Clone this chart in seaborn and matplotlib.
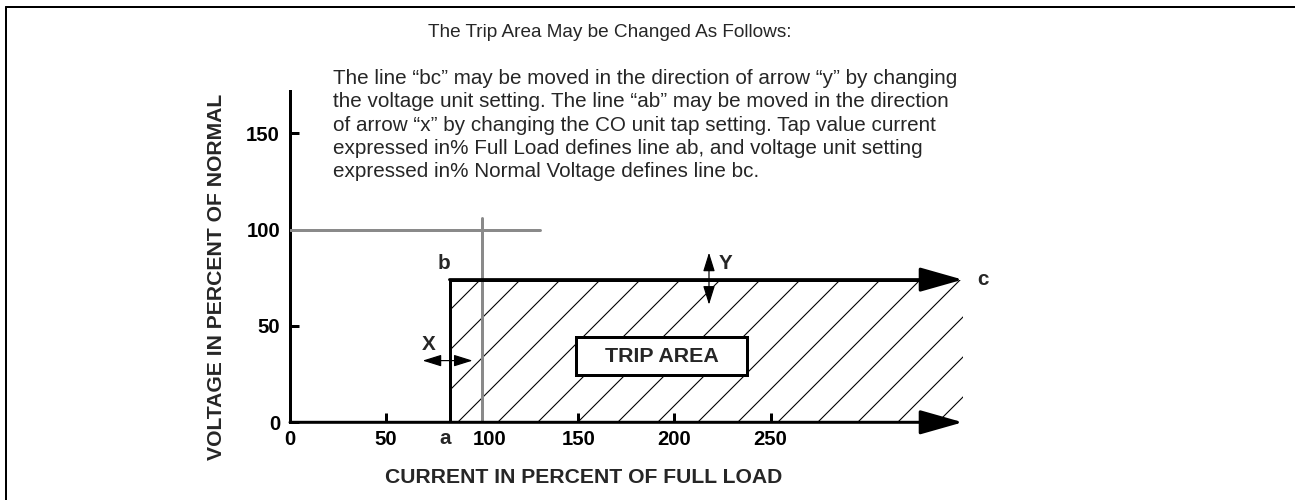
import matplotlib
matplotlib.use("Agg")
import matplotlib.pyplot as plt
import matplotlib.transforms as mtransforms
import seaborn as sns
from matplotlib.lines import Line2D
from matplotlib.patches import Rectangle

# ---------------- data ----------------
x_ticks = [0, 50, 100, 150, 200, 250]
x_tick_labels = ["0", "50", "100", "150", "200", "250"]
y_ticks = [0, 50, 100, 150]
y_tick_labels = ["0", "50", "100", "150"]

tap_a = 83            # line ab (current, % full load)
volt_b = 74           # line bc (voltage, % normal)
x_end = 350           # end of arrows
trip_x = [tap_a, tap_a, x_end - 12]
trip_y = [0, volt_b, volt_b]

normal_v_x = [0, 130]
normal_v_y = [100, 100]
full_load_x = [100, 100]
full_load_y = [0, 106]

trip_box_x = [149, 238]
trip_box_y = [24.4, 44]
x_arrow_x = [69, 95]
x_arrow_y = 32
y_arrow_x = 218
y_arrow_y = [61, 88]

title = "The Trip Area May be Changed As Follows:"
body = ("The line \u201cbc\u201d may be moved in the direction of arrow \u201cy\u201d by changing\n"
        "the voltage unit setting. The line \u201cab\u201d may be moved in the direction\n"
        "of arrow \u201cx\u201d by changing the CO unit tap setting. Tap value current\n"
        "expressed in% Full Load defines line ab, and voltage unit setting\n"
        "expressed in% Normal Voltage defines line bc.")
x_label = "CURRENT IN PERCENT OF FULL LOAD"
y_label = "VOLTAGE IN PERCENT OF NORMAL"

# ---------------- style ----------------
DPI = 240
W, H = 1295, 500


def pt(px):
    return px * 72.0 / DPI


sns.set_style("white")
plt.rcParams["font.family"] = ["Liberation Sans", "DejaVu Sans"]
plt.rcParams["hatch.linewidth"] = pt(1.1)

fig = plt.figure(figsize=(W / DPI, H / DPI), dpi=DPI)
sx, sy = 1.922, 1.928
x0, y0 = 290, 422.3
xmax, ymax = 360, 175
ax = fig.add_axes([x0 / W, (H - y0) / H, xmax * sx / W, ymax * sy / H])
ax.set_xlim(0, xmax)
ax.set_ylim(0, ymax)

for s in ["top", "right", "bottom"]:
    ax.spines[s].set_visible(False)
ax.spines["left"].set_bounds(0, 172)
ax.spines["left"].set_linewidth(pt(3))
ax.spines["left"].set_color("black")

ax.set_xticks(x_ticks)
ax.set_xticklabels(x_tick_labels)
ax.set_yticks(y_ticks)
ax.set_yticklabels(y_tick_labels)
ax.tick_params(axis="both", direction="in", length=pt(9), width=pt(3),
               color="black", labelsize=pt(20.3), labelcolor="black")
ax.tick_params(axis="x", pad=pt(8), bottom=True)
ax.tick_params(axis="y", pad=pt(10), left=True)
for lbl in ax.get_xticklabels() + ax.get_yticklabels():
    lbl.set_fontweight("bold")
# the "100" label sits a little to the right of its tick in the original
lbl100 = ax.get_xticklabels()[2]
lbl100.set_transform(lbl100.get_transform()
                     + mtransforms.ScaledTranslation(7 / DPI, 0, fig.dpi_scale_trans))

# hatched trip area
ax.fill_between([tap_a, x_end], 0, volt_b, facecolor="none", edgecolor="black",
                linewidth=0, hatch="//", zorder=1)

# reference lines (100 % voltage, 100 % current)
line_kw = dict(sort=False, estimator=None, errorbar=None, ax=ax)
sns.lineplot(x=normal_v_x, y=normal_v_y, color="#8a8a8a", linewidth=pt(3),
             zorder=3, **line_kw)
sns.lineplot(x=full_load_x, y=full_load_y, color="#8a8a8a", linewidth=pt(3),
             zorder=3, **line_kw)

# boundary a-b-c
sns.lineplot(x=trip_x, y=trip_y, color="black", linewidth=pt(3), zorder=4, **line_kw)

big_head = dict(arrowstyle="-|>,head_length=%f,head_width=%f" % (pt(37), pt(10.5)),
                color="black", lw=pt(3), shrinkA=0, shrinkB=0, mutation_scale=1)
ax.annotate("", xy=(x_end, volt_b), xytext=(tap_a, volt_b),
            arrowprops=big_head, annotation_clip=False, zorder=4)
ax.annotate("", xy=(x_end, 0), xytext=(0, 0),
            arrowprops=big_head, annotation_clip=False, zorder=4)

small_head = dict(arrowstyle="<|-|>,head_length=%f,head_width=%f" % (pt(16), pt(5)),
                  color="black", lw=pt(1.2), shrinkA=0, shrinkB=0, mutation_scale=1)
ax.annotate("", xy=(x_arrow_x[1], x_arrow_y), xytext=(x_arrow_x[0], x_arrow_y),
            arrowprops=small_head, zorder=5)
ax.annotate("", xy=(y_arrow_x, y_arrow_y[0]), xytext=(y_arrow_x, y_arrow_y[1]),
            arrowprops=small_head, zorder=5)

# trip area box
ax.add_patch(Rectangle((trip_box_x[0], trip_box_y[0]), trip_box_x[1] - trip_box_x[0],
                       trip_box_y[1] - trip_box_y[0], facecolor="white",
                       edgecolor="black", linewidth=pt(3), zorder=5))
ax.text(sum(trip_box_x) / 2, sum(trip_box_y) / 2, "TRIP AREA", ha="center", va="center",
        fontsize=pt(21.4), fontweight="bold", zorder=6)

# point labels
lab = dict(fontsize=pt(20.6), fontweight="bold", ha="center", va="center")
ax.text(80, 82.5, "b", **lab)
ax.text(360.5, 74, "c", clip_on=False, **lab)
ax.text(72, 40.5, "X", **lab)
ax.text(226.5, 82.5, "Y", **lab)
ax.text(80.5, -8.2, "a", clip_on=False, **lab)

# texts
fig.text(610 / W, 1 - 32 / H, title, ha="center", va="center", fontsize=pt(19))
fig.text(333 / W, 1 - 69 / H, body, ha="left", va="top", fontsize=pt(20.6),
         linespacing=1.29)
fig.text(584 / W, 1 - 477 / H, x_label, ha="center", va="center", fontsize=pt(21.1),
         fontweight="bold")
fig.text(217 / W, 1 - 277 / H, y_label, ha="center", va="center", fontsize=pt(21.1),
         fontweight="bold", rotation=90)

# page frame
fig.add_artist(Line2D([6 / W, 1], [1 - 7 / H, 1 - 7 / H], color="black", lw=pt(2)))
fig.add_artist(Line2D([6 / W, 6 / W], [0, 1 - 7 / H], color="black", lw=pt(2)))

fig.savefig("out.png", dpi=DPI)
